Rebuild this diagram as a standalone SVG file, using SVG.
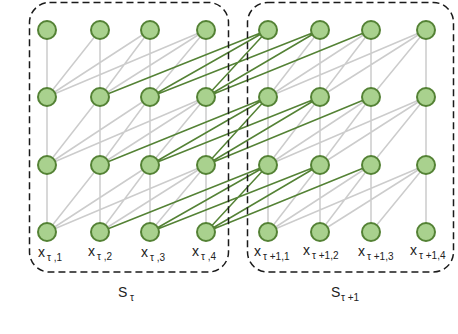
<svg xmlns="http://www.w3.org/2000/svg" width="458" height="334" viewBox="0 0 458 334">
<style>
.g{stroke:#cccccc;stroke-width:1.5;fill:none}
.e{stroke:#548235;stroke-width:1.5;fill:none}
.n{fill:#a9d18e;stroke:#548235;stroke-width:2}
.box{fill:none;stroke:#1a1a1a;stroke-width:1.5;stroke-dasharray:7 4}
.t{font-family:"Liberation Sans",Arial,sans-serif;font-size:14px;fill:#222}
.s{font-size:10px}
</style>
<rect width="458" height="334" fill="#ffffff"/>
<g id="connectors">
<g class="g">
<path d="M47 97L47 30M47 97L100 30M47 97L150 30M47 97L206 30M100 97L100 30M100 97L150 30M100 97L206 30M150 97L150 30M150 97L206 30M206 97L206 30M268 97L268 30M268 97L320 30M268 97L371 30M268 97L426 30M320 97L320 30M320 97L371 30M320 97L426 30M371 97L371 30M371 97L426 30M426 97L426 30"/>
<path d="M47 165L47 97M47 165L100 97M47 165L150 97M47 165L206 97M100 165L100 97M100 165L150 97M100 165L206 97M150 165L150 97M150 165L206 97M206 165L206 97M268 165L268 97M268 165L320 97M268 165L371 97M268 165L426 97M320 165L320 97M320 165L371 97M320 165L426 97M371 165L371 97M371 165L426 97M426 165L426 97"/>
<path d="M47 232L47 165M47 232L100 165M47 232L150 165M47 232L206 165M100 232L100 165M100 232L150 165M100 232L206 165M150 232L150 165M150 232L206 165M206 232L206 165M268 232L268 165M268 232L320 165M268 232L371 165M268 232L426 165M320 232L320 165M320 232L371 165M320 232L426 165M371 232L371 165M371 232L426 165M426 232L426 165"/>
</g>
<g class="e">
<path d="M100 97L268 30M150 97L268 30M150 97L320 30M206 97L268 30M206 97L320 30M206 97L371 30"/>
<path d="M100 165L268 97M150 165L268 97M150 165L320 97M206 165L268 97M206 165L320 97M206 165L371 97"/>
<path d="M100 232L268 165M150 232L268 165M150 232L320 165M206 232L268 165M206 232L320 165M206 232L371 165"/>
</g>
</g>
<g id="group-s-tau">
<rect class="box" x="29.5" y="2.5" width="199" height="269.5" rx="20"/>
<text class="t" x="118" y="297">S<tspan class="s" x="130" y="301">τ</tspan></text>
</g>
<g id="group-s-tau1">
<rect class="box" x="247.5" y="2.5" width="206" height="269.5" rx="20"/>
<text class="t" x="331" y="297">S<tspan class="s" x="341" y="301">τ +1</tspan></text>
</g>
<g id="n-l-0-1"><circle class="n" cx="47" cy="30" r="9"/></g>
<g id="n-l-0-2"><circle class="n" cx="100" cy="30" r="9"/></g>
<g id="n-l-0-3"><circle class="n" cx="150" cy="30" r="9"/></g>
<g id="n-l-0-4"><circle class="n" cx="206" cy="30" r="9"/></g>
<g id="n-r-0-1"><circle class="n" cx="268" cy="30" r="9"/></g>
<g id="n-r-0-2"><circle class="n" cx="320" cy="30" r="9"/></g>
<g id="n-r-0-3"><circle class="n" cx="371" cy="30" r="9"/></g>
<g id="n-r-0-4"><circle class="n" cx="426" cy="30" r="9"/></g>
<g id="n-l-1-1"><circle class="n" cx="47" cy="97" r="9"/></g>
<g id="n-l-1-2"><circle class="n" cx="100" cy="97" r="9"/></g>
<g id="n-l-1-3"><circle class="n" cx="150" cy="97" r="9"/></g>
<g id="n-l-1-4"><circle class="n" cx="206" cy="97" r="9"/></g>
<g id="n-r-1-1"><circle class="n" cx="268" cy="97" r="9"/></g>
<g id="n-r-1-2"><circle class="n" cx="320" cy="97" r="9"/></g>
<g id="n-r-1-3"><circle class="n" cx="371" cy="97" r="9"/></g>
<g id="n-r-1-4"><circle class="n" cx="426" cy="97" r="9"/></g>
<g id="n-l-2-1"><circle class="n" cx="47" cy="165" r="9"/></g>
<g id="n-l-2-2"><circle class="n" cx="100" cy="165" r="9"/></g>
<g id="n-l-2-3"><circle class="n" cx="150" cy="165" r="9"/></g>
<g id="n-l-2-4"><circle class="n" cx="206" cy="165" r="9"/></g>
<g id="n-r-2-1"><circle class="n" cx="268" cy="165" r="9"/></g>
<g id="n-r-2-2"><circle class="n" cx="320" cy="165" r="9"/></g>
<g id="n-r-2-3"><circle class="n" cx="371" cy="165" r="9"/></g>
<g id="n-r-2-4"><circle class="n" cx="426" cy="165" r="9"/></g>
<g id="x-tau-1"><circle class="n" cx="47" cy="232" r="9"/><text class="t" x="38" y="257">x<tspan class="s" x="47" y="261">τ ,1</tspan></text></g>
<g id="x-tau-2"><circle class="n" cx="100" cy="232" r="9"/><text class="t" x="88" y="256">x<tspan class="s" x="97" y="260">τ ,2</tspan></text></g>
<g id="x-tau-3"><circle class="n" cx="150" cy="232" r="9"/><text class="t" x="141" y="257">x<tspan class="s" x="150" y="261">τ ,3</tspan></text></g>
<g id="x-tau-4"><circle class="n" cx="206" cy="232" r="9"/><text class="t" x="192" y="256">x<tspan class="s" x="201" y="260">τ ,4</tspan></text></g>
<g id="x-tau1-1"><circle class="n" cx="268" cy="232" r="9"/><text class="t" x="254" y="256">x<tspan class="s" x="263" y="260">τ +1,1</tspan></text></g>
<g id="x-tau1-2"><circle class="n" cx="320" cy="232" r="9"/><text class="t" x="303" y="255">x<tspan class="s" x="312" y="259">τ +1,2</tspan></text></g>
<g id="x-tau1-3"><circle class="n" cx="371" cy="232" r="9"/><text class="t" x="358" y="256">x<tspan class="s" x="367" y="260">τ +1,3</tspan></text></g>
<g id="x-tau1-4"><circle class="n" cx="426" cy="232" r="9"/><text class="t" x="410" y="255">x<tspan class="s" x="419" y="259">τ +1,4</tspan></text></g>
</svg>
